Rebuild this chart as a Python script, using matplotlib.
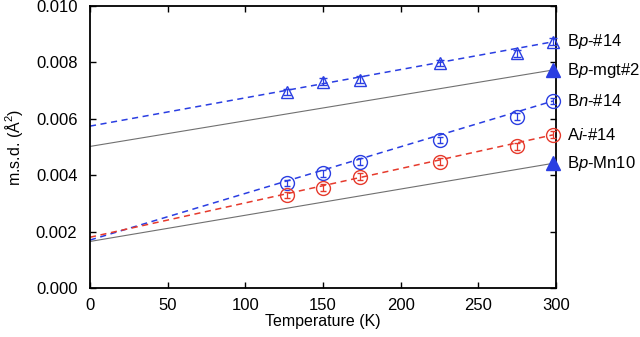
import matplotlib
matplotlib.use('Agg')
import matplotlib.pyplot as plt

plt.rcParams['font.family'] = ['Liberation Sans', 'DejaVu Sans']
plt.rcParams['mathtext.fontset'] = 'custom'
plt.rcParams['mathtext.rm'] = 'Liberation Sans'
plt.rcParams['mathtext.it'] = 'Liberation Sans:italic'

# temperatures (K)
temps = [127, 150, 174, 225, 275, 298]

# m.s.d. values (A^2)
bp14 = [0.00695, 0.00732, 0.00738, 0.00798, 0.00832, 0.00873]
bn14 = [0.00372, 0.00407, 0.00448, 0.00525, 0.00608, 0.00663]
ai14 = [0.00330, 0.00356, 0.00395, 0.00448, 0.00503, 0.00543]
err = [0.00012, 0.00012, 0.00012, 0.00012, 0.00012, 0.00012]

# single points at room temperature
bp_mgt2 = 0.00773
bp_mn10 = 0.00442
t_room = 298

# fit lines (values at T=0 and T=298)
fit_t = [0, 298]
fit_bp14 = [0.00574, 0.00873]
fit_bn14 = [0.00170, 0.00663]
fit_ai14 = [0.00180, 0.00543]
fit_mgt2 = [0.00502, 0.00773]
fit_mn10 = [0.00165, 0.00442]

blue = '#2a3ee2'
red = '#e63a2c'
gray = '#707070'

fig = plt.figure(figsize=(6.4, 3.37), dpi=100)
ax = fig.add_axes([0.1406, 0.1454, 0.7282, 0.8368])

dash = (0, (4, 3))
ax.plot(fit_t, fit_mgt2, color=gray, lw=0.8)
ax.plot(fit_t, fit_mn10, color=gray, lw=0.8)
ax.plot(fit_t, fit_bp14, color=blue, lw=1.1, linestyle=dash)
ax.plot(fit_t, fit_bn14, color=blue, lw=1.1, linestyle=dash)
ax.plot(fit_t, fit_ai14, color=red, lw=1.1, linestyle=dash)

ax.errorbar(temps, bp14, yerr=err, fmt='^', ms=9, mfc='none', mec=blue,
            mew=1.0, ecolor=blue, elinewidth=0.9, capsize=3, capthick=0.9,
            clip_on=False, zorder=4)
ax.errorbar(temps, bn14, yerr=err, fmt='o', ms=10, mfc='none', mec=blue,
            mew=1.0, ecolor=blue, elinewidth=0.9, capsize=2.5, capthick=0.9,
            clip_on=False, zorder=4)
ax.errorbar(temps, ai14, yerr=err, fmt='o', ms=10, mfc='none', mec=red,
            mew=1.0, ecolor=red, elinewidth=0.9, capsize=2.5, capthick=0.9,
            clip_on=False, zorder=4)
ax.plot([t_room], [bp_mgt2], '^', ms=10, color=blue, clip_on=False, zorder=5)
ax.plot([t_room], [bp_mn10], '^', ms=10, color=blue, clip_on=False, zorder=5)

labels = [(bp14[-1], r'B$\mathit{p}$-#14'),
          (bp_mgt2, r'B$\mathit{p}$-mgt#2'),
          (bn14[-1], r'B$\mathit{n}$-#14'),
          (ai14[-1], r'A$\mathit{i}$-#14'),
          (bp_mn10, r'B$\mathit{p}$-Mn10')]
for yv, txt in labels:
    ax.text(307, yv, txt, fontsize=12, va='center', ha='left', clip_on=False)

ax.set_xlim(0, 300)
ax.set_ylim(0, 0.010)
ax.set_xticks([0, 50, 100, 150, 200, 250, 300])
ax.set_yticks([0.000, 0.002, 0.004, 0.006, 0.008, 0.010])
ax.set_yticklabels(['0.000', '0.002', '0.004', '0.006', '0.008', '0.010'])
ax.tick_params(direction='in', top=True, right=True, length=4, width=1,
               labelsize=12)
ax.tick_params(axis='x', pad=7)
ax.tick_params(axis='y', pad=9)
for s in ax.spines.values():
    s.set_linewidth(1.3)
ax.set_xlabel('Temperature (K)', fontsize=11.5, labelpad=1)
ax.set_ylabel('m.s.d. (Å$^2$)', fontsize=11.5, labelpad=8)

fig.savefig('out.png', dpi=100)
